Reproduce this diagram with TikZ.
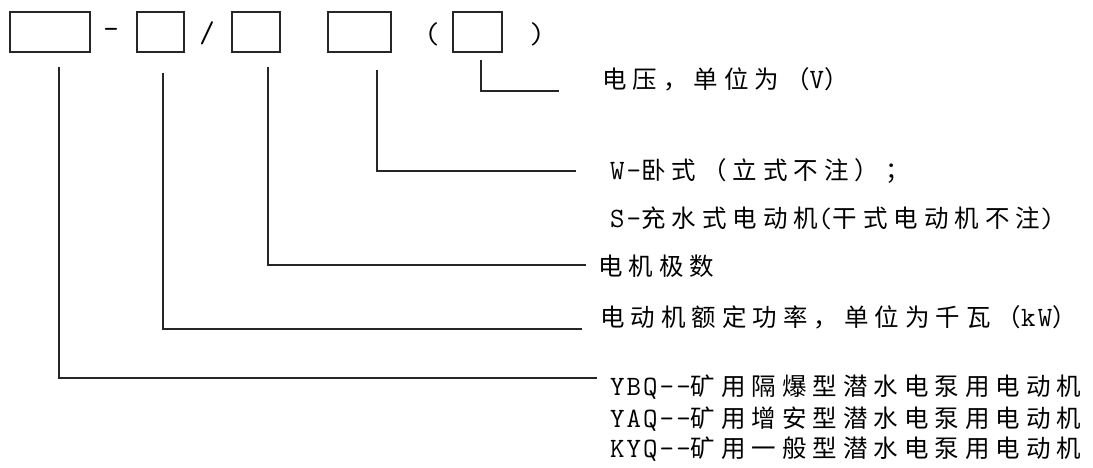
\documentclass[tikz,border=0pt]{standalone}
\usepackage{fontspec}
\newfontfamily\cjk[LetterSpace=24.5]{Noto Sans CJK SC}
\newfontfamily\latfont[LetterSpace=7.5]{Latin Modern Mono}
\newfontfamily\symfont{Latin Modern Mono}
\newcommand\latn[1]{{\latfont\fontsize{28}{30}\selectfont #1}}
\begin{document}
\begin{tikzpicture}[x=1pt,y=-1pt,
  box/.style={draw=black!85, line width=1.6pt, inner sep=0pt},
  conn/.style={draw=black!85, line width=1.6pt},
  lbl/.style={anchor=west, inner sep=0pt, font=\cjk\fontsize{24.5}{28}\selectfont, text height=20pt, text depth=4pt},
  sym/.style={inner sep=0pt, font=\symfont\fontsize{30}{32}\selectfont}]
\useasboundingbox (0,0) rectangle (1093,468);
% boxes
\node[box, minimum width=80pt, minimum height=40pt] (b1) at (50,32) {};
\node[box, minimum width=47pt, minimum height=40pt] (b2) at (160.5,32) {};
\node[box, minimum width=48pt, minimum height=40pt] (b3) at (256,32) {};
\node[box, minimum width=63pt, minimum height=40pt] (b4) at (359.5,32) {};
\node[box, minimum width=49pt, minimum height=40pt] (b5) at (477.5,32) {};
% separators
\node[sym] (dash) at (111,33) {-};
\node[sym] (slash) at (207,33) {/};
\node[sym] (lp) at (432,34) {(};
\node[sym] (rp) at (537,34) {)};
% labels
\node[lbl] (t5) at (602,81) {电压，单位为（\latn{V}）};
\node[lbl] (t4a) at (610,172) {\latn{W-}卧式（立式不注）；};
\node[lbl] (t4b) at (610,219) {\latn{S-}充水式电动机\latn{(}干式电动机不注\latn{)}};
\node[lbl] (t3) at (598,267) {电机极数};
\node[lbl] (t2) at (600,318) {电动机额定功率，单位为千瓦（\latn{kW}）};
\node[lbl] (t1a) at (610,387) {\latn{YBQ--}矿用隔爆型潜水电泵用电动机};
\node[lbl] (t1b) at (610,419) {\latn{YAQ--}矿用增安型潜水电泵用电动机};
\node[lbl] (t1c) at (610,449) {\latn{KYQ--}矿用一般型潜水电泵用电动机};
% connector ends
\coordinate (s1) at (59,67);   \coordinate (e1) at (597,378);
\coordinate (s2) at (163,73);  \coordinate (e2) at (582,329);
\coordinate (s3) at (268,67);  \coordinate (e3) at (586,265);
\coordinate (s4) at (377,70);  \coordinate (e4) at (576,171);
\coordinate (s5) at (481,60);  \coordinate (e5) at (559,91);
\draw[conn] (s1) |- (e1);
\draw[conn] (s2) |- (e2);
\draw[conn] (s3) |- (e3);
\draw[conn] (s4) |- (e4);
\draw[conn] (s5) |- (e5);
\end{tikzpicture}
\end{document}
